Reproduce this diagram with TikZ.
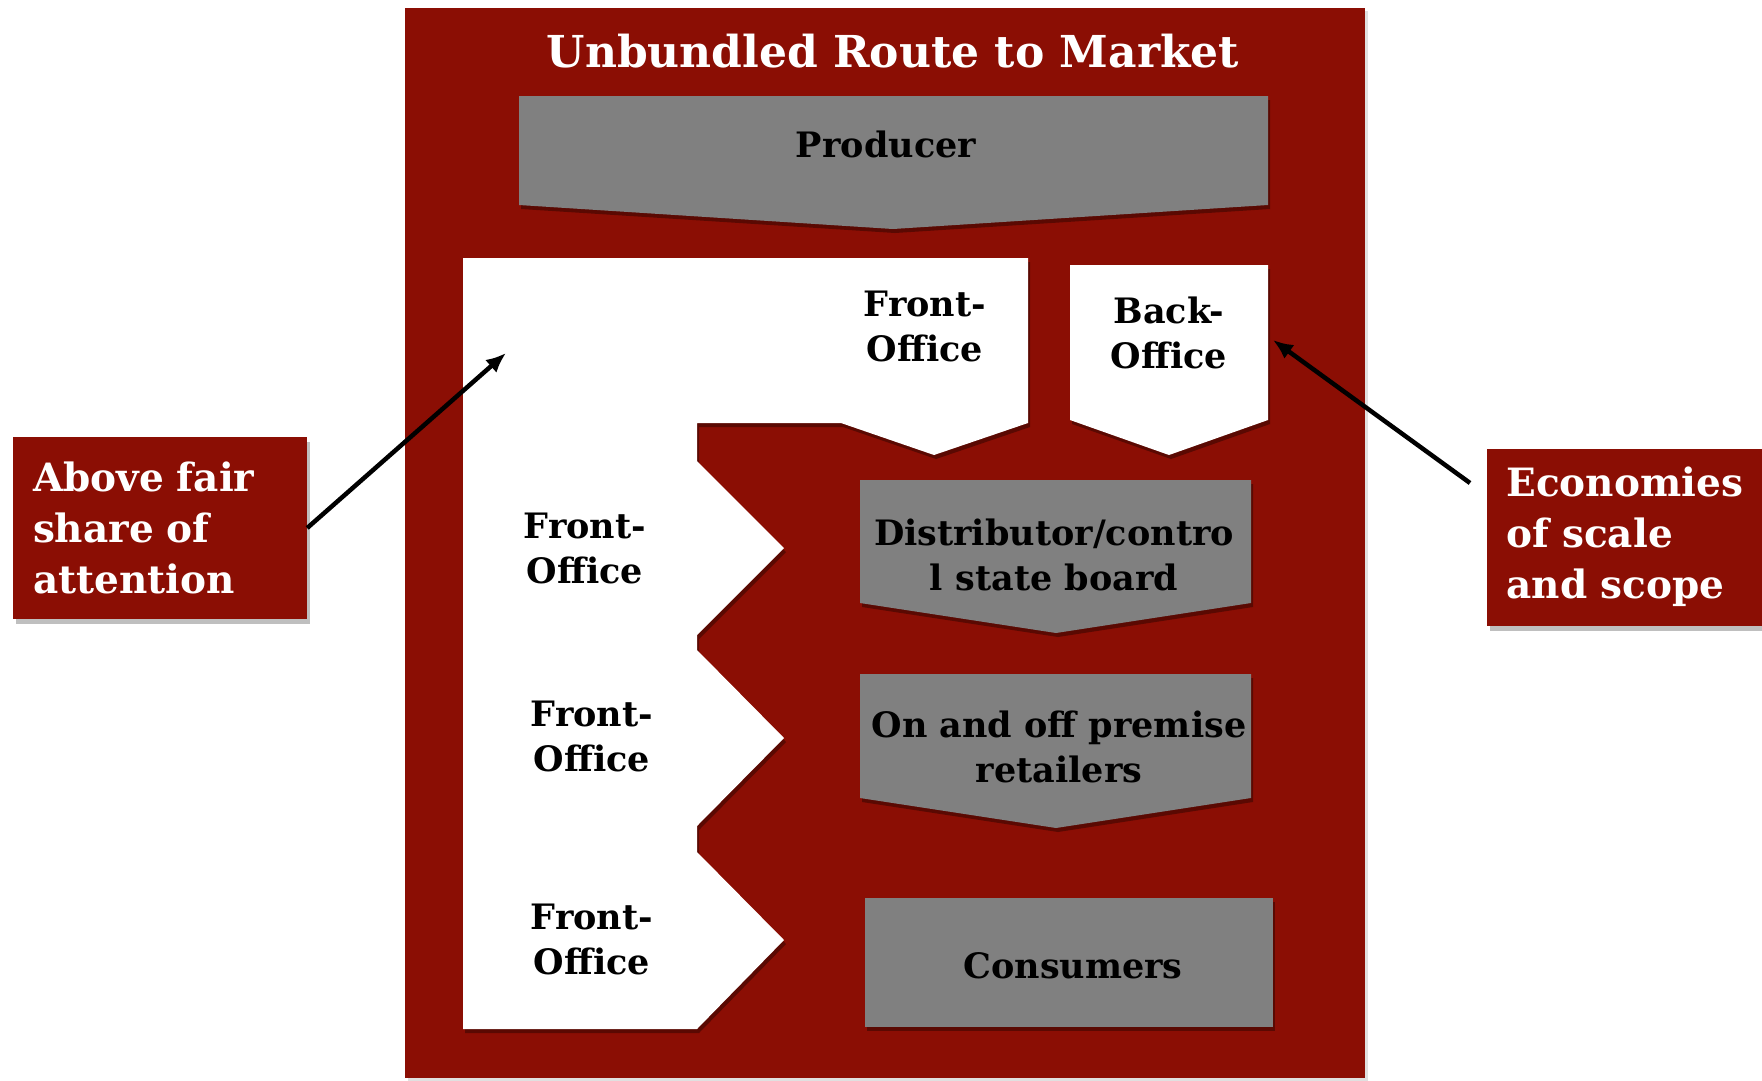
\documentclass[tikz,border=0pt]{standalone}
\usepackage{fontspec}
\setmainfont{DejaVu Serif}
\usetikzlibrary{shadows, arrows.meta, positioning}
\definecolor{routered}{RGB}{139,14,4}
\definecolor{stagegray}{RGB}{128,128,128}

\begin{document}
\begin{tikzpicture}[
  x=1pt, y=-1pt,
  >=Latex,
  every node/.style={font=\bfseries},
  boxshadow/.style={drop shadow={shadow xshift=2pt, shadow yshift=-4pt,
    opacity=0.35, fill=black}},
  stage/.style={fill=stagegray, boxshadow},
  office/.style={fill=white, boxshadow},
  lbl/.style={align=center, inner sep=0pt,
    font=\fontsize{35}{45}\selectfont\bfseries},
  callout/.style={fill=routered, text=white, align=left, inner xsep=20pt,
    inner ysep=0pt, font=\fontsize{39}{51}\selectfont\bfseries,
    drop shadow={shadow xshift=3pt, shadow yshift=-5pt, opacity=0.25, fill=black}},
  arr/.style={->, line width=4.5pt, >={Latex[length=20pt, width=17pt]}},
]
\useasboundingbox (0,0) rectangle (1762,1080);

%% ---- Frame ----
\fill[routered, drop shadow={shadow xshift=3pt, shadow yshift=-3pt,
  opacity=0.12, fill=black}] (405,8) rectangle (1365,1078);
\node[text=white, font=\fontsize{44}{52}\selectfont\bfseries] (title) at (893,51)
  {Unbundled Route to Market};

%% ---- Producer ----
\path[stage] (519,96) -- (1268,96) -- (1268,205) -- (893,229) -- (519,205) -- cycle;
\node[lbl] (producer) at (886,144) {Producer};

%% ---- Front-Office (one white piece) ----
\path[office] (463,258) -- (1028,258) -- (1028,423) -- (934,455) -- (841,423)
  -- (697,423) -- (697,461) -- (784,548) -- (697,635)
  -- (697,650) -- (784,738) -- (697,826)
  -- (697,852) -- (784,940) -- (697,1029) -- (463,1029) -- cycle;
\node[lbl] (front1) at (925,326) {Front-\\Office};
\node[lbl] (front2) at (585,548) {Front-\\Office};
\node[lbl] (front3) at (592,736) {Front-\\Office};
\node[lbl] (front4) at (592,939) {Front-\\Office};

%% ---- Back-Office ----
\path[office] (1070,265) -- (1268,265) -- (1268,420) -- (1169,455) -- (1070,420) -- cycle;
\node[lbl] (back) at (1169,333) {Back-\\Office};

%% ---- Distribution stages ----
\path[stage] (860,480) -- (1251,480) -- (1251,603) -- (1056,633) -- (860,603) -- cycle;
\node[lbl] (distributor) at (1054,555) {Distributor/contro\\l state board};

\path[stage] (860,674) -- (1251,674) -- (1251,798) -- (1056,828) -- (860,798) -- cycle;
\node[lbl] (retailers) at (1059,747) {On and off premise\\retailers};

\path[stage] (865,898) rectangle (1273,1027);
\node[lbl] (consumers) at (1073,966) {Consumers};

%% ---- Callouts ----
\node[callout, minimum width=294pt, minimum height=182pt, text width=254pt]
  (abovefair) at (160,528) {Above fair\\share of\\attention};
\node[callout, minimum width=276pt, minimum height=177pt, text width=237pt,
  inner xsep=19pt] (ecoscale) at (1625,537) {Economies\\of scale\\and scope};

\coordinate (frontTip) at (506,353);
\coordinate (backTip) at (1273,340);
\coordinate (ecoTail) at (1470,483);
\draw[arr] (abovefair.east) -- (frontTip);
\draw[arr] (ecoTail) -- (backTip);

\end{tikzpicture}
\end{document}
